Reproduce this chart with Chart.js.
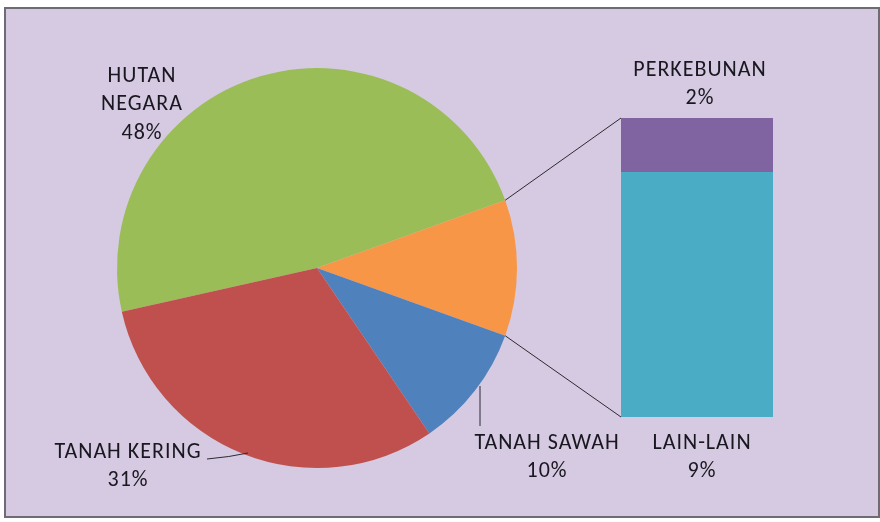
<!DOCTYPE html>
<html><head><meta charset="utf-8">
<script src="https://cdn.jsdelivr.net/npm/chart.js@4"></script>
<style>
html,body{margin:0;padding:0;background:#fff;width:880px;height:522px;overflow:hidden;}
#frame{position:absolute;left:4px;top:7px;width:872px;height:507px;border:2px solid #6d6c72;background:#d5cae2;}
canvas{position:absolute;left:0;top:0;}
</style></head>
<body>
<div id="frame"></div>
<canvas id="pie" width="880" height="522"></canvas>
<canvas id="bar" width="880" height="522"></canvas>
<script>
// ---- data ----
const mainCategories = ['HUTAN NEGARA', 'TANAH SAWAH', 'TANAH KERING'];
const mainValues = [48, 10, 31];
const barCategories = ['LAIN-LAIN', 'PERKEBUNAN'];
const barValues = [9, 2];
const otherLabel = 'LAINNYA';

// ---- styles ----
const COLORS = {
  'HUTAN NEGARA': '#9bbd58',
  'TANAH SAWAH': '#4f81bd',
  'TANAH KERING': '#c0504d',
  'LAINNYA': '#f79646',
  'LAIN-LAIN': '#4bacc6',
  'PERKEBUNAN': '#8064a2'
};
const FONT = '22px Carlito, Lato, sans-serif';
const TEXT = '#19171f';

const otherValue = barValues.reduce((a, b) => a + b, 0);
const total = mainValues.reduce((a, b) => a + b, 0) + otherValue;
// pie drawn clockwise: HUTAN, other, SAWAH, KERING ; other slice centred facing the bar
const pieLabels = [mainCategories[0], otherLabel, mainCategories[1], mainCategories[2]];
const pieValues = [mainValues[0], otherValue, mainValues[1], mainValues[2]];
const otherDeg = otherValue / total * 360;
const rotation = 90 - otherDeg / 2 - mainValues[0] / total * 360;

Chart.defaults.animation = false;

const pieChart = new Chart(document.getElementById('pie'), {
  type: 'pie',
  data: {
    labels: pieLabels,
    datasets: [{
      data: pieValues,
      backgroundColor: pieLabels.map(l => COLORS[l]),
      borderWidth: 0
    }]
  },
  options: {
    responsive: false,
    rotation: rotation,
    layout: { padding: { left: 117, right: 363, top: 68, bottom: 54 } },
    plugins: { legend: { display: false }, tooltip: { enabled: false } }
  }
});

// label placement (style/position config)
const labelPos = {
  'HUTAN NEGARA': { x: 142, y: 76, wrap: true },
  'TANAH KERING': { x: 128, y: 452 },
  'TANAH SAWAH': { x: 547, y: 443 },
  'LAIN-LAIN': { x: 702, y: 443 },
  'PERKEBUNAN': { x: 700, y: 70 }
};
const LINE_H = 28.5;

const overlay = {
  id: 'overlay',
  afterDraw(chart) {
    const ctx = chart.ctx;
    ctx.save();
    // connectors from the "other" slice to the bar
    const arc = pieChart.getDatasetMeta(0).data[1];
    const p = arc.getProps(['x', 'y', 'startAngle', 'endAngle', 'outerRadius'], true);
    const topBar = chart.getDatasetMeta(1).data[0];
    const botBar = chart.getDatasetMeta(0).data[0];
    const left = topBar.x - topBar.width / 2;
    ctx.strokeStyle = '#2b2a30';
    ctx.lineWidth = 1;
    ctx.beginPath();
    ctx.moveTo(p.x + p.outerRadius * Math.cos(p.startAngle), p.y + p.outerRadius * Math.sin(p.startAngle));
    ctx.lineTo(left, topBar.y);
    ctx.moveTo(p.x + p.outerRadius * Math.cos(p.endAngle), p.y + p.outerRadius * Math.sin(p.endAngle));
    ctx.lineTo(left, botBar.base);
    ctx.stroke();

    // leader lines
    ctx.beginPath();
    ctx.moveTo(207, 459);
    ctx.quadraticCurveTo(230, 457, 248, 453);
    ctx.moveTo(480, 386);
    ctx.lineTo(480, 426);
    ctx.stroke();

    // labels
    ctx.font = FONT;
    ctx.letterSpacing = '1px';
    ctx.fillStyle = TEXT;
    ctx.textAlign = 'center';
    ctx.textBaseline = 'middle';
    const items = [];
    mainCategories.forEach((c, i) => items.push([c, mainValues[i]]));
    barCategories.forEach((c, i) => items.push([c, barValues[i]]));
    items.forEach(([name, val]) => {
      const pos = labelPos[name];
      const lines = pos.wrap ? name.split(' ') : [name];
      lines.push(val + '%');
      lines.forEach((t, k) => ctx.fillText(t, pos.x, pos.y + k * LINE_H));
    });
    ctx.restore();
  }
};

new Chart(document.getElementById('bar'), {
  type: 'bar',
  data: {
    labels: [otherLabel],
    datasets: barCategories.map((c, i) => ({
      label: c,
      data: [barValues[i]],
      backgroundColor: COLORS[c],
      borderWidth: 0,
      barPercentage: 1,
      categoryPercentage: 1
    }))
  },
  options: {
    responsive: false,
    layout: { padding: { left: 621, right: 107, top: 118, bottom: 105 } },
    scales: {
      x: { stacked: true, display: false },
      y: { stacked: true, display: false, min: 0, max: otherValue }
    },
    plugins: { legend: { display: false }, tooltip: { enabled: false } }
  },
  plugins: [overlay]
});
</script>
</body></html>
